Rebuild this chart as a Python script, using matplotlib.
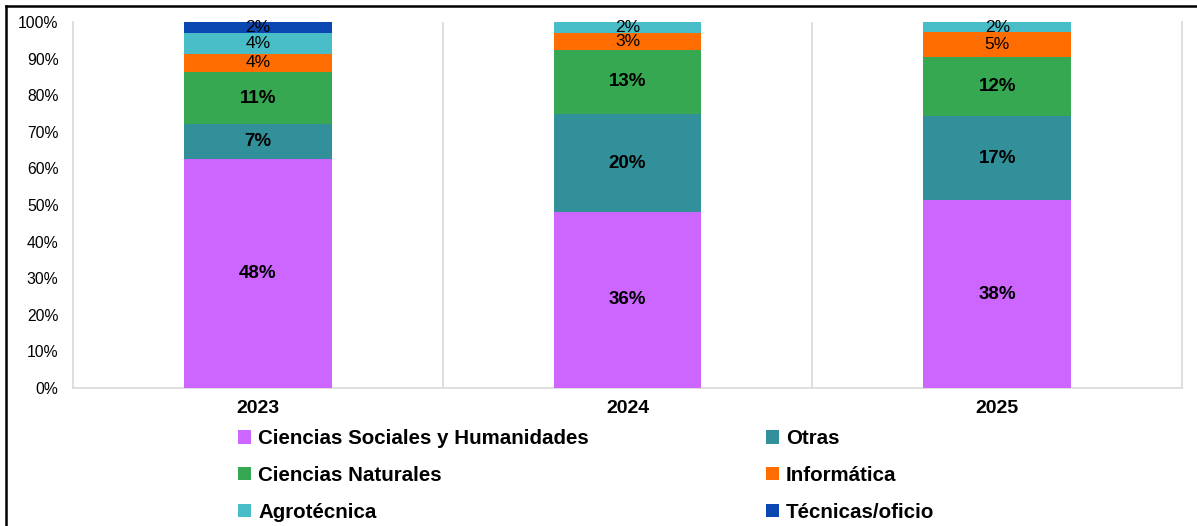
import matplotlib
matplotlib.use("Agg")
import matplotlib.pyplot as plt
import numpy as np
from matplotlib.lines import Line2D
from matplotlib.patches import Patch

years = ["2023", "2024", "2025"]
categories = ["Ciencias Sociales y Humanidades", "Otras", "Ciencias Naturales",
              "Informática", "Agrotécnica", "Técnicas/oficio"]
# values (%); labels show them rounded
sociales = [47.6, 35.6, 38.0]
otras = [7.1, 19.8, 17.0]
naturales = [10.9, 13.0, 12.0]
informatica = [3.7, 3.4, 5.0]
agrotecnica = [4.3, 2.2, 2.0]
tecnicas = [2.3, 0.0, 0.0]
series = [sociales, otras, naturales, informatica, agrotecnica, tecnicas]
colors = ["#CC66FF", "#31909A", "#37A852", "#FF6D00", "#48BDC7", "#0B47B0"]
bold_label = [True, True, True, False, False, False]

plt.rcParams['font.family'] = ['Liberation Sans', 'DejaVu Sans']

fig = plt.figure(figsize=(11.97, 5.26), dpi=100)
ax = fig.add_axes([0.061, 0.2624, 0.9265, 0.6956])

data = np.array(series, dtype=float)
totals = data.sum(axis=0)
shares = data / totals * 100
x = np.arange(len(years))
bottom = np.zeros(len(years))
for i, (name, col) in enumerate(zip(categories, colors)):
    ax.bar(x, shares[i], bottom=bottom, width=0.4, color=col, label=name, zorder=3)
    for j in range(len(years)):
        if data[i, j] > 0:
            ax.text(x[j], bottom[j] + shares[i, j] / 2, f"{int(round(data[i, j]))}%",
                    ha="center", va="center",
                    fontsize=13.5 if bold_label[i] else 12.5,
                    fontweight="bold" if bold_label[i] else "normal",
                    color="black", zorder=4)
    bottom += shares[i]

ax.set_xlim(-0.5, 2.5)
ax.set_ylim(0, 100)
ax.set_yticks(np.arange(0, 101, 10))
ax.set_yticklabels([f"{v}%" for v in range(0, 101, 10)], fontsize=11.3)
ax.set_xticks(x)
ax.set_xticklabels(years, fontsize=14, fontweight="bold")
ax.tick_params(axis="both", length=0)
ax.tick_params(axis="y", pad=10.5)
ax.tick_params(axis="x", pad=9)
for b in [0.5, 1.5]:
    ax.axvline(b, color="#D9D9D9", lw=1.2, zorder=1)
for s in ["left", "bottom", "right"]:
    ax.spines[s].set_color("#D9D9D9")
    ax.spines[s].set_linewidth(1.2)
ax.spines["top"].set_visible(False)

order = [0, 2, 4, 1, 3, 5]
handles = [Patch(facecolor=colors[k], edgecolor="none") for k in order]
labels = [categories[k] for k in order]
fig.legend(handles, labels, ncol=2, loc="upper left", bbox_to_anchor=(0.1988, 0.184),
           frameon=False, prop={"size": 14.8, "weight": "bold"},
           handlelength=0.64, handleheight=0.64, handletextpad=0.34,
           labelspacing=0.86, columnspacing=8.6, borderaxespad=0, borderpad=0)

fig.add_artist(Line2D([0.005, 1.0], [0.989, 0.989], transform=fig.transFigure, color="black", lw=1.8))
fig.add_artist(Line2D([0.005, 0.005], [0.0, 0.989], transform=fig.transFigure, color="black", lw=1.8))

fig.savefig("out.png", dpi=100)
